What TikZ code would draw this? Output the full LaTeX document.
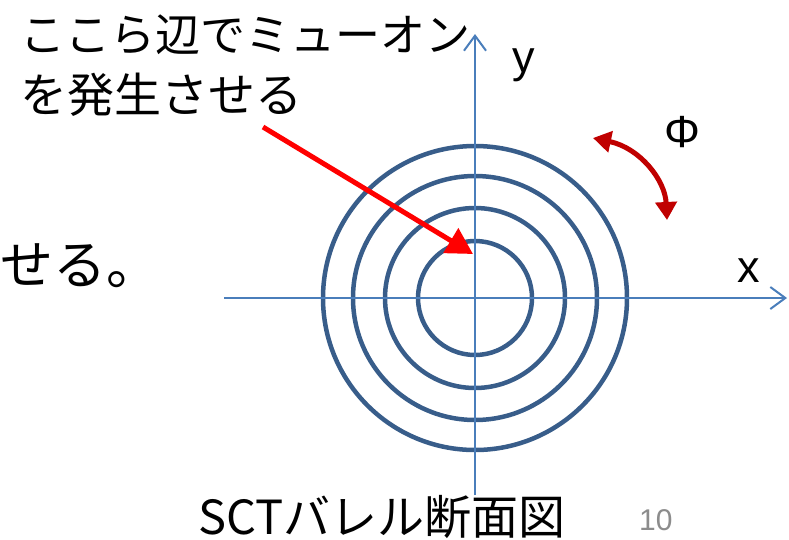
\documentclass[tikz,border=0pt]{standalone}
\usepackage{fontspec}
\setmainfont{Liberation Sans}
\newfontfamily\jp{Noto Sans CJK JP}
\usetikzlibrary{arrows.meta}
\definecolor{ringblue}{HTML}{385D8A}
\definecolor{axisblue}{HTML}{4A7EBB}
\definecolor{darkred}{HTML}{C00000}
\definecolor{pagegray}{HTML}{8C8C8C}
\tikzset{
  ring/.style={draw=ringblue, line width=4.5pt},
  axisline/.style={draw=axisblue, line width=2pt, -{Straight Barb[length=15pt,width=22pt,line width=2pt]}},
  jptext/.style={inner sep=0pt, anchor=base west, font=\jp\fontsize{45pt}{54pt}\selectfont},
  axlabel/.style={inner sep=0pt, anchor=base west, font=\fontsize{45pt}{54pt}\selectfont},
}
\begin{document}
\begin{tikzpicture}[x=1pt,y=-1pt]
\useasboundingbox (0,0) rectangle (789,539);
% circles
\coordinate (o) at (475,298);
\foreach \r in {57,90,122,152} \draw[ring] (o) circle[radius=\r];
% axes
\coordinate (xs) at (224,298);
\coordinate (xe) at (787,298);
\coordinate (ys) at (475,495);
\coordinate (ye) at (475,34);
\draw[axisline] (xs) -- (xe);
\draw[axisline] (ys) -- (ye);
% labels
\node[axlabel] (ylab) at (512,72) {y};
\node[axlabel] (xlab) at (737,282) {x};
\node[axlabel] (phi) at (664,147) {Φ};
% texts
\node[jptext] (t1) at (20,51) {ここら辺でミューオン};
\node[jptext, font=\jp\fontsize{47pt}{56pt}\selectfont] (t2) at (20,112) {を発生させる};
\node[inner sep=0pt, anchor=base west, font=\jp\fontsize{53pt}{64pt}\selectfont] (t3) at (0,284) {せる。};
\node[inner sep=0pt, anchor=base west, font=\jp\fontsize{47pt}{56pt}\selectfont] (t4) at (198,534) {SCTバレル断面図};
\node[inner sep=0pt, anchor=base west, font=\fontsize{30pt}{36pt}\selectfont, text=pagegray] (pg) at (639,530) {10};
% red pointer
\coordinate (ps) at (263,127);
\coordinate (pe) at (473,254);
\draw[red, line width=5pt, -{Triangle[length=26pt,width=28pt]}] (ps) -- (pe);
% phi arrow
\coordinate (a1) at (593,138);
\coordinate (a2) at (667,220);
\draw[darkred, line width=5pt, {Triangle[length=18pt,width=21pt]}-{Triangle[length=18pt,width=21pt]}] (a1) .. controls (640,148) and (665,180) .. (a2);
\end{tikzpicture}
\end{document}
